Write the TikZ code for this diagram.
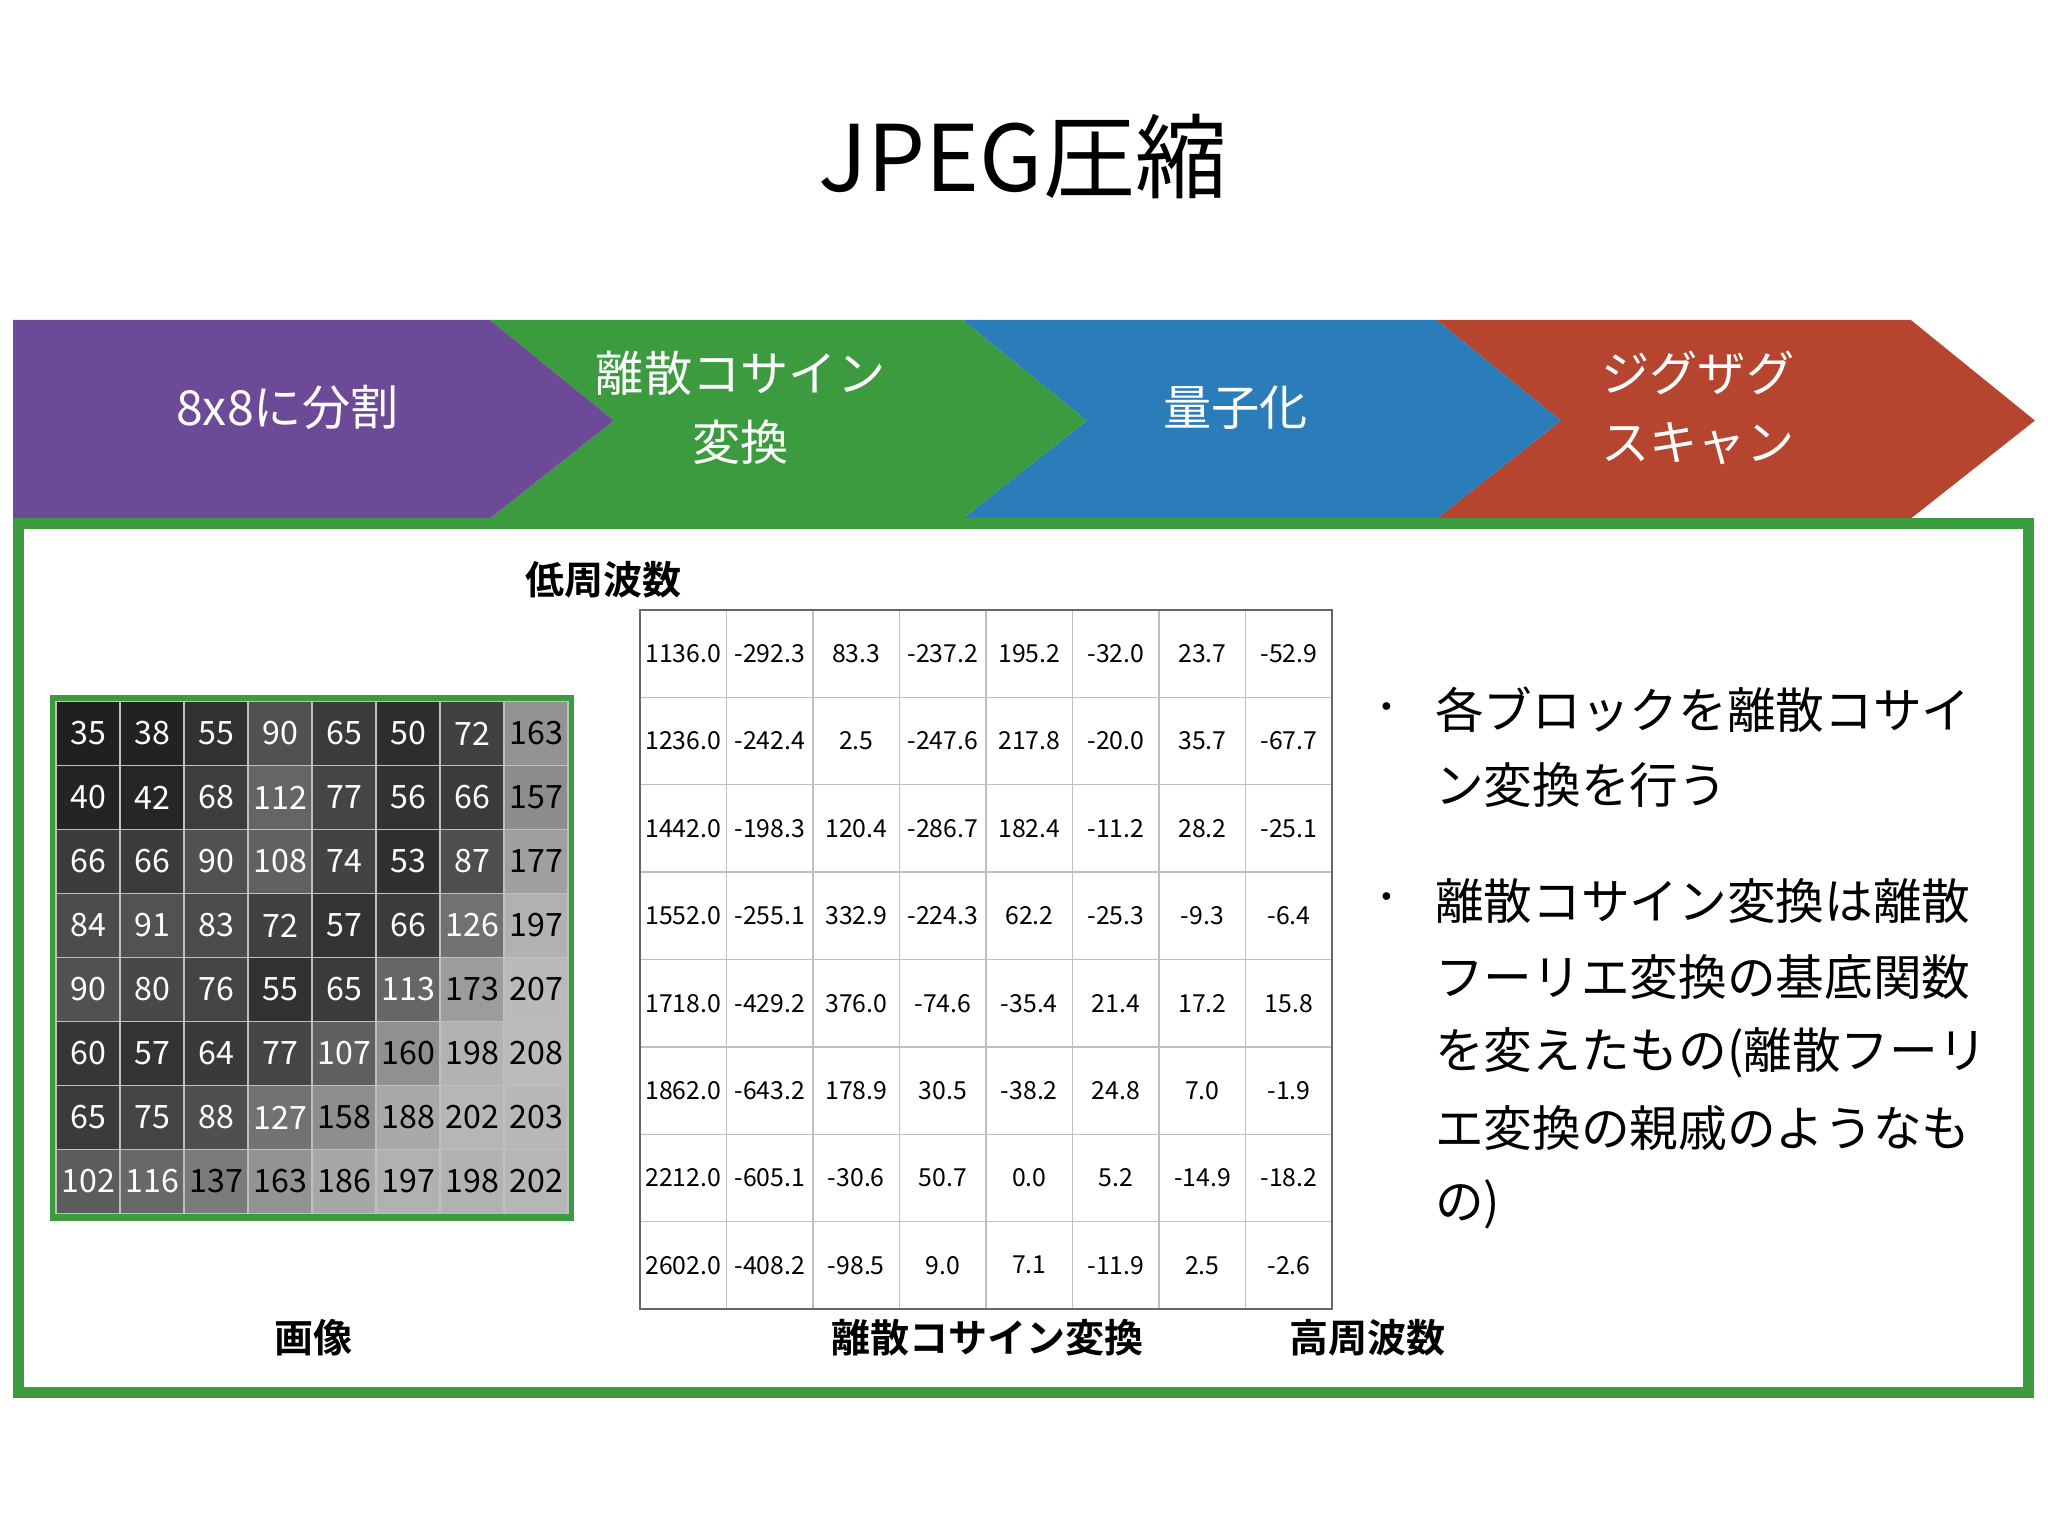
\documentclass[tikz,border=0pt]{standalone}
\usepackage{fontspec}
\setmainfont{Noto Sans CJK JP}
\newfontfamily\jpb{Noto Sans CJK JP Bold}
\definecolor{cpur}{HTML}{6C4A98}
\definecolor{cgrn}{HTML}{3C9B3F}
\definecolor{cblu}{HTML}{2B7DBA}
\definecolor{cred}{HTML}{B5452F}
\begin{document}
\begin{tikzpicture}[x=0.01cm,y=-0.01cm,
  lbl/.style={font=\fontsize{10.5}{15}\selectfont,text=white,align=center},
  bold/.style={font=\jpb\fontsize{8.5}{10}\selectfont},
  cell/.style={draw=black!25,line width=0.3pt,minimum width=0.49cm,minimum height=0.49cm,inner sep=0pt,font=\fontsize{7}{8}\selectfont},
  tcell/.style={draw=black!25,line width=0.3pt,minimum width=0.6625cm,minimum height=0.669cm,inner sep=0pt,font=\fontsize{5.4}{6}\selectfont},
  btxt/.style={anchor=west,inner sep=0pt,font=\fontsize{10.6}{14}\selectfont}]
\useasboundingbox (0,0) rectangle (1568,1176);
\node (title) at (783,120) {\fontsize{20}{24}\selectfont JPEG圧縮};
% chevrons
\fill[cred] (1100,245) -- (1463,245) -- (1558,322) -- (1463,397) -- (1100,397) -- (1195,322) -- cycle;
\fill[cblu] (737,245) -- (1100,245) -- (1195,322) -- (1100,397) -- (737,397) -- (832,322) -- cycle;
\fill[cgrn] (375,245) -- (737,245) -- (832,322) -- (737,397) -- (375,397) -- (470,322) -- cycle;
\fill[cpur] (10,245) -- (375,245) -- (470,322) -- (375,397) -- (10,397) -- cycle;
\node[lbl] (s1) at (220,312) {8x8に分割};
\node[lbl] (s2) at (567,312) {離散コサイン\\変換};
\node[lbl] (s3) at (946,312) {量子化};
\node[lbl] (s4) at (1300,312) {ジグザグ\\スキャン};
% frame
\draw[cgrn,line width=2.3pt] (14,401) rectangle (1553,1066);
% image grid
\draw[cgrn,line width=1.5pt] (41,535) rectangle (437,932);
\foreach \row [count=\r from 0] in {{35,38,55,90,65,50,72,163},{40,42,68,112,77,56,66,157},{66,66,90,108,74,53,87,177},{84,91,83,72,57,66,126,197},{90,80,76,55,65,113,173,207},{60,57,64,77,107,160,198,208},{65,75,88,127,158,188,202,203},{102,116,137,163,186,197,198,202}}{
  \foreach \v [count=\c from 0] in \row {
    \pgfmathsetmacro\p{\v/2.55*0.9}
    \pgfmathsetmacro\tc{\v<130 ? 100 : 0}
    \node[cell,fill=white!\p!black,text=white!\tc!black] (g\r\c) at ({43+24.5+49*\c},{537+24.5+49*\r}) {\v};
  }
}
% DCT table
\foreach \row [count=\r from 0] in {{1136.0,-292.3,83.3,-237.2,195.2,-32.0,23.7,-52.9},{1236.0,-242.4,2.5,-247.6,217.8,-20.0,35.7,-67.7},{1442.0,-198.3,120.4,-286.7,182.4,-11.2,28.2,-25.1},{1552.0,-255.1,332.9,-224.3,62.2,-25.3,-9.3,-6.4},{1718.0,-429.2,376.0,-74.6,-35.4,21.4,17.2,15.8},{1862.0,-643.2,178.9,30.5,-38.2,24.8,7.0,-1.9},{2212.0,-605.1,-30.6,50.7,0.0,5.2,-14.9,-18.2},{2602.0,-408.2,-98.5,9.0,7.1,-11.9,2.5,-2.6}}{
  \foreach \v [count=\c from 0] in \row {
    \node[tcell] (d\r\c) at ({490+33.1+66.25*\c},{467+33.45+66.9*\r}) {\v};
  }
}
\draw[black!60,line width=0.5pt] (490,467) rectangle (1020,1002);
\node[bold] (lf) at (462,444) {低周波数};
\node[bold] (im) at (240,1024) {画像};
\node[bold] (dc) at (756,1024) {離散コサイン変換};
\node[bold] (hf) at (1047,1024) {高周波数};
% bullets
\node (b1) at (1062,545) {\fontsize{8}{8}\selectfont ・};
\node (b2) at (1062,690) {\fontsize{8}{8}\selectfont ・};
\node[btxt] (t1) at (1098,543) {各ブロックを離散コサイ};
\node[btxt] (t2) at (1098,601) {ン変換を行う};
\node[btxt] (t3) at (1098,690) {離散コサイン変換は離散};
\node[btxt] (t4) at (1098,748) {フーリエ変換の基底関数};
\node[btxt] (t5) at (1098,806) {を変えたもの(離散フーリ};
\node[btxt] (t6) at (1098,864) {エ変換の親戚のようなも};
\node[btxt] (t7) at (1098,922) {の)};
\end{tikzpicture}
\end{document}
